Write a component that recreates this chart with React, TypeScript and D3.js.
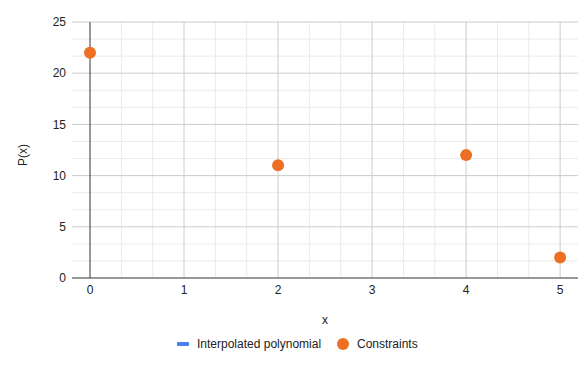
import React from "react";
import * as d3 from "d3";

const xValues = [0, 2, 4, 5];
const yValues = [22, 11, 12, 2];
const xTicks = [0, 1, 2, 3, 4, 5];
const yTicks = [0, 5, 10, 15, 20, 25];
const seriesNames = ["Interpolated polynomial", "Constraints"];
const seriesColors = ["#4a7ff0", "#ec6f23"];

const W = 586;
const H = 366;
const left = 72;
const right = 578;
const top = 22;
const bottom = 278;

export default function App() {
  const x = d3.scaleLinear().domain([-0.1915, 5.19]).range([left, right]);
  const y = d3.scaleLinear().domain([0, 25]).range([bottom, top]);
  const xMinor = d3.range(0, 16).filter((i) => i % 3 !== 0).map((i) => i / 3).filter((v) => x(v) <= right + 0.5);
  const yMinor = d3.range(0, 16).filter((i) => i % 3 !== 0).map((i) => (i * 5) / 3).filter((v) => v <= 25);
  const font = "Arial, 'Liberation Sans', sans-serif";
  return (
    <svg width={W} height={H} style={{ position: "absolute", left: 0, top: 0 }}>
      <rect width={W} height={H} fill="#fff" />
      {yMinor.map((v) => (
        <line key={"ym" + v} x1={left} x2={right} y1={y(v)} y2={y(v)} stroke="#ebebeb" />
      ))}
      {xMinor.map((v) => (
        <line key={"xm" + v} x1={x(v)} x2={x(v)} y1={top} y2={bottom} stroke="#ebebeb" />
      ))}
      {yTicks.filter((v) => v !== 0).map((v) => (
        <line key={"yg" + v} x1={left} x2={right} y1={y(v)} y2={y(v)} stroke="#cccccc" />
      ))}
      {xTicks.filter((v) => v !== 0).map((v) => (
        <line key={"xg" + v} x1={x(v)} x2={x(v)} y1={top} y2={bottom} stroke="#cccccc" />
      ))}
      <line x1={x(0)} x2={x(0)} y1={top} y2={bottom} stroke="#333" />
      <line x1={left} x2={right} y1={y(0)} y2={y(0)} stroke="#333" />
      {yTicks.map((v) => (
        <text key={"yl" + v} x={66} y={y(v)} dy="0.35em" textAnchor="end" fontSize={12} fontFamily={font} fill="#222">
          {v}
        </text>
      ))}
      {xTicks.map((v) => (
        <text key={"xl" + v} x={x(v)} y={294} textAnchor="middle" fontSize={12} fontFamily={font} fill="#222">
          {v}
        </text>
      ))}
      <text transform="translate(27,155) rotate(-90)" textAnchor="middle" fontSize={12} fontFamily={font} fill="#222">
        P(x)
      </text>
      <text x={325} y={324} textAnchor="middle" fontSize={12} fontFamily={font} fill="#222">
        x
      </text>
      {xValues.map((v, i) => (
        <circle key={"p" + i} cx={x(v)} cy={y(yValues[i])} r={6} fill={seriesColors[1]} />
      ))}
      <rect x={177} y={342} width={12} height={4} rx={1} fill={seriesColors[0]} />
      <text x={197} y={344} dy="0.35em" fontSize={12} fontFamily={font} fill="#222">
        {seriesNames[0]}
      </text>
      <circle cx={343} cy={344} r={6} fill={seriesColors[1]} />
      <text x={357} y={344} dy="0.35em" fontSize={12} fontFamily={font} fill="#222">
        {seriesNames[1]}
      </text>
    </svg>
  );
}
